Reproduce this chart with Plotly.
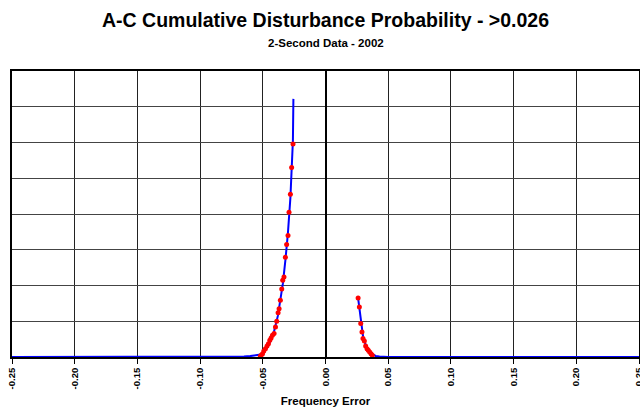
import plotly.graph_objects as go

# Marker data, y in grid units
left_x = [-0.0520, -0.0513, -0.0502, -0.0492, -0.0479, -0.0466, -0.0455, -0.0444,
          -0.0434, -0.0423, -0.0410, -0.0399, -0.0389, -0.0378, -0.0370, -0.0360,
          -0.0349, -0.0341, -0.0331, -0.0320, -0.0310, -0.0299, -0.0291, -0.0280,
          -0.0270, -0.0259]
left_y = [0.02, 0.05, 0.09, 0.17, 0.23, 0.31, 0.37, 0.47,
          0.53, 0.61, 0.66, 0.84, 1.00, 1.24, 1.35, 1.59,
          1.90, 2.15, 2.24, 2.79, 3.15, 3.40, 4.05, 4.55,
          5.30, 5.96]
right_x = [0.0260, 0.0270, 0.0281, 0.0291, 0.0299, 0.0310, 0.0320, 0.0331,
           0.0341, 0.0352, 0.0363, 0.0373]
right_y = [1.65, 1.40, 0.94, 0.70, 0.52, 0.45, 0.31, 0.23,
           0.19, 0.14, 0.09, 0.05]

# Fitted curve
curve_left_x = [-0.25, -0.10, -0.08, -0.07, -0.065, -0.060, -0.056, -0.053, -0.050,
                -0.047, -0.044, -0.041, -0.038, -0.036, -0.034, -0.032, -0.030,
                -0.028, -0.027, -0.026, -0.0256]
curve_left_y = [0.0, 0.0, 0.003, 0.008, 0.014, 0.025, 0.04, 0.06, 0.11,
                0.24, 0.44, 0.72, 1.15, 1.55, 2.05, 2.70, 3.45,
                4.45, 5.15, 6.05, 7.22]
curve_right_x = [0.0260, 0.0270, 0.0280, 0.0290, 0.0300, 0.0320, 0.0340, 0.0360,
                 0.0380, 0.0400, 0.0430, 0.0460, 0.0500, 0.25]
curve_right_y = [1.65, 1.36, 1.02, 0.75, 0.56, 0.34, 0.20, 0.11,
                 0.06, 0.03, 0.012, 0.004, 0.0, 0.0]

x_ticks = [-0.25, -0.20, -0.15, -0.10, -0.05, 0.00, 0.05, 0.10, 0.15, 0.20, 0.25]
x_tick_labels = ["-0.25", "-0.20", "-0.15", "-0.10", "-0.05", "0.00",
                 "0.05", "0.10", "0.15", "0.20", "0.25"]

font = "Liberation Sans, Arial, sans-serif"

fig = go.Figure()
for cx, cy in [(curve_left_x, curve_left_y), (curve_right_x, curve_right_y)]:
    fig.add_trace(go.Scatter(x=cx, y=cy, mode="lines",
                             line=dict(color="#0000FF", width=2),
                             showlegend=False, hoverinfo="skip"))
for mx, my in [(left_x, left_y), (right_x, right_y)]:
    fig.add_trace(go.Scatter(x=mx, y=my, mode="markers",
                             marker=dict(color="#FF0000", size=5),
                             showlegend=False))

fig.update_layout(
    width=640, height=409,
    margin=dict(l=12, r=1, t=71, b=52, autoexpand=False),
    paper_bgcolor="white", plot_bgcolor="white",
    font=dict(family=font, color="black"),
    xaxis=dict(range=[-0.25, 0.25], tickvals=x_ticks,
               ticktext=["<b>" + t + "</b>" for t in x_tick_labels],
               tickangle=-90, tickfont=dict(size=9.5, family=font),
               ticklabeloverflow="allow",
               automargin=False,
               showgrid=True, gridcolor="#222222", gridwidth=1,
               zeroline=True, zerolinecolor="black", zerolinewidth=2,
               showline=True, linecolor="black", linewidth=2, mirror=True,
               ticks="outside", ticklen=5, tickcolor="black",
               title=dict(text="<b>Frequency Error</b>", font=dict(size=11.5), standoff=8)),
    yaxis=dict(range=[0, 8], dtick=1, showticklabels=False, automargin=False,
               showgrid=True, gridcolor="#444444", gridwidth=1,
               zeroline=False,
               showline=True, linecolor="black", linewidth=2, mirror=True,
               ticks=""),
)

fig.add_annotation(text="<b>A-C Cumulative Disturbance Probability - >0.026</b>",
                   xref="paper", yref="paper", x=0.5, y=1, yshift=51,
                   showarrow=False, font=dict(size=19.5), yanchor="middle")
fig.add_annotation(text="<b>2-Second Data - 2002</b>",
                   xref="paper", yref="paper", x=0.5, y=1, yshift=28,
                   showarrow=False, font=dict(size=11.5), yanchor="middle")

fig.write_html("out.html",
               config={"displayModeBar": False},
               post_script="document.body.style.margin='0';document.body.style.overflow='hidden';")
